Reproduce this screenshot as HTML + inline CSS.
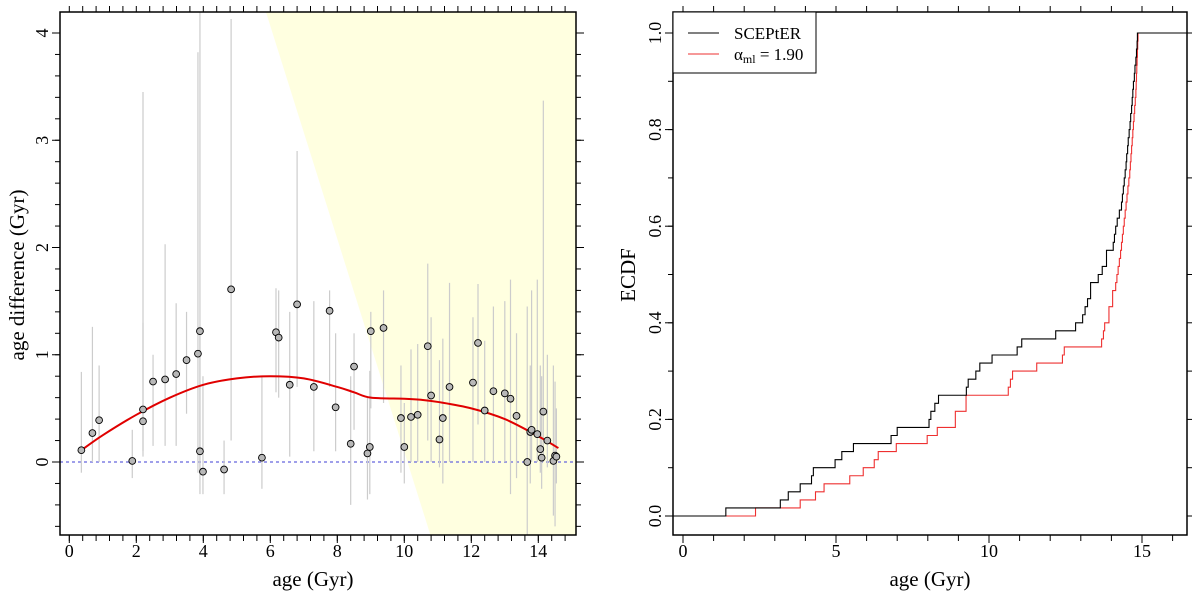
<!DOCTYPE html>
<html><head><meta charset="utf-8"><style>
html,body{margin:0;padding:0;background:#fff;}
svg{display:block;font-family:"Liberation Serif",serif;}
</style></head><body>
<svg id="c" width="1200" height="594" viewBox="0 0 1200 594"></svg>
<script>
// ---- Left panel data ----
const ptAge=[0.36,0.69,0.89,1.88,2.2,2.2,2.5,2.86,3.19,3.5,3.84,3.9,3.9,3.99,4.62,4.83,5.75,6.17,6.25,6.58,6.8,7.3,7.77,7.95,8.4,8.5,8.9,8.97,9.0,9.38,9.9,10.0,10.2,10.4,10.7,10.8,11.05,11.15,11.35,12.05,12.2,12.4,12.66,13.0,13.17,13.35,13.67,13.76,13.8,13.97,14.06,14.15,14.1,14.27,14.5,14.45,14.54];
const ptDiff=[0.11,0.27,0.39,0.01,0.49,0.38,0.75,0.77,0.82,0.95,1.01,1.22,0.1,-0.09,-0.07,1.61,0.04,1.21,1.16,0.72,1.47,0.7,1.41,0.51,0.17,0.89,0.08,0.14,1.22,1.25,0.41,0.14,0.42,0.44,1.08,0.62,0.21,0.41,0.7,0.74,1.11,0.48,0.66,0.64,0.59,0.43,0.0,0.28,0.3,0.26,0.12,0.47,0.04,0.2,0.06,0.01,0.05];
const errLo=[-0.1,0,0,-0.15,0.1,0.05,0.15,0.15,0.15,0.45,-0.1,-0.3,-0.1,-0.3,-0.3,0.2,-0.25,0.65,0.6,0.05,0.7,0.1,0.7,0.1,-0.4,0.3,-0.35,-0.3,0.5,0.55,-0.1,-0.2,0,0,0.2,0,-0.05,-0.2,0,0,0.35,0,0,0,-0.3,-0.15,-0.7,-0.2,0,0,-0.1,0,-0.25,-0.05,-0.6,-0.5,-0.2];
const errHi=[0.84,1.26,0.9,0.3,3.45,1.3,1.0,2.03,1.48,1.4,3.82,4.2,1.2,0.8,0.2,4.13,0.8,1.62,1.6,1.4,2.9,1.5,1.6,1.2,0.8,1.2,0.6,0.85,1.4,1.6,0.9,0.55,1.05,1.1,1.85,1.35,0.95,1.15,1.67,1.35,1.66,1.13,1.45,1.5,1.7,1.2,1.45,0.9,1.6,1.7,0.9,3.37,0.8,1.0,0.75,0.9,0.5];
const fitAge=[0.36,1,2,3,4,5,6,7,8,8.5,9,10,10.5,11,12,13,14,14.6];
const fitDiff=[0.11,0.25,0.44,0.6,0.72,0.78,0.8,0.78,0.7,0.65,0.6,0.59,0.58,0.56,0.5,0.4,0.24,0.13];
const leftXTicks=[0,2,4,6,8,10,12,14];
const leftYTicks=[0,1,2,3,4];
// ---- Right panel data (ECDF samples) ----
const sceptAges=[1.40,3.18,3.44,3.83,4.20,4.26,4.97,5.19,5.57,6.80,7.00,8.04,8.10,8.23,8.35,9.26,9.32,9.57,9.70,10.10,10.92,11.07,12.18,12.83,13.06,13.14,13.22,13.32,13.32,13.57,13.70,13.84,13.84,14.06,14.10,14.14,14.19,14.26,14.33,14.36,14.39,14.42,14.45,14.48,14.5,14.53,14.55,14.58,14.61,14.63,14.66,14.68,14.7,14.72,14.75,14.77,14.8,14.82,14.84,14.85];
const mlAges=[2.37,3.83,4.33,4.61,5.45,5.89,6.25,6.38,6.97,7.98,8.31,8.9,8.9,9.25,9.25,10.63,10.7,10.77,11.56,12.4,12.46,13.68,13.74,13.78,13.92,13.92,14.04,14.04,14.14,14.18,14.22,14.26,14.30,14.33,14.36,14.39,14.42,14.45,14.48,14.51,14.54,14.57,14.6,14.62,14.64,14.66,14.68,14.7,14.72,14.74,14.76,14.78,14.8,14.81,14.82,14.83,14.84,14.85,14.86,14.87];
const rightXTicks=[0,5,10,15];
const rightYTicks=[0,0.2,0.4,0.6,0.8,1.0];

const NS="http://www.w3.org/2000/svg";
const svg=document.getElementById('c');
function mk(tag,attrs,parent){const e=document.createElementNS(NS,tag);for(const k in attrs)e.setAttribute(k,attrs[k]);(parent||svg).appendChild(e);return e;}

const L={l:60,r:576,t:12,b:535};
const lx=v=>69.3+33.5*v;
const ly=v=>462-107.25*v;
const R={l:673,r:1187,t:12,b:535};
const rx=v=>683+30.6*v;
const ry=v=>516-483*v;

// ---- Left panel ----
const gL=mk('g',{});


const clipL=mk('clipPath',{id:'clipL'});mk('rect',{x:L.l,y:L.t,width:L.r-L.l,height:L.b-L.t},clipL);
const reg=mk('polygon',{points:`${lx(5.87)},${L.t} ${L.r},${L.t} ${L.r},${L.b} ${lx(10.78)},${L.b}`,fill:'#ffffe0'},gL);


const zl=mk('line',{x1:L.l,x2:L.r,y1:ly(0),y2:ly(0),stroke:'#6666dd','stroke-width':1.2,'stroke-dasharray':'3,3'},gL);


const eg=mk('g',{'clip-path':'url(#clipL)'},gL);
for(let i=0;i<ptAge.length;i++){
  const e=mk('line',{x1:lx(ptAge[i]),x2:lx(ptAge[i]),y1:ly(errLo[i]),y2:ly(errHi[i]),stroke:'#cccccc','stroke-width':1.2},eg);
  
  
}
// smooth Catmull-Rom path through fit points
const fp=fitAge.map((a,i)=>[lx(a),ly(fitDiff[i])]);
let fd='M'+fp[0][0]+','+fp[0][1];
for(let i=0;i<fp.length-1;i++){
  const p0=fp[Math.max(0,i-1)],p1=fp[i],p2=fp[i+1],p3=fp[Math.min(fp.length-1,i+2)];
  const c1=[p1[0]+(p2[0]-p0[0])/6,p1[1]+(p2[1]-p0[1])/6];
  const c2=[p2[0]-(p3[0]-p1[0])/6,p2[1]-(p3[1]-p1[1])/6];
  fd+='C'+c1[0]+','+c1[1]+' '+c2[0]+','+c2[1]+' '+p2[0]+','+p2[1];
}
const fit=mk('path',{d:fd,fill:'none',stroke:'#e00000','stroke-width':2},gL);


for(let i=0;i<ptAge.length;i++){
  const c=mk('circle',{cx:lx(ptAge[i]),cy:ly(ptDiff[i]),r:3.4,fill:'#b8b8b8',stroke:'#000','stroke-width':0.9},gL);
  
  
}
const fl=mk('rect',{x:L.l,y:L.t,width:L.r-L.l,height:L.b-L.t,fill:'none',stroke:'#000','stroke-width':1.5},gL);


for(let v=0;v<=15.01;v+=0.4){const x=lx(v);if(x<L.l||x>L.r)continue;
  mk('line',{x1:x,x2:x,y1:L.b,y2:L.b+6,stroke:'#000'},gL);mk('line',{x1:x,x2:x,y1:L.t,y2:L.t-6,stroke:'#000'},gL);}
for(let v=-0.6;v<=4.21;v+=0.2){const y=ly(v);if(y<L.t||y>L.b)continue;
  mk('line',{x1:L.l,x2:L.l-5,y1:y,y2:y,stroke:'#000'},gL);mk('line',{x1:L.r,x2:L.r+5,y1:y,y2:y,stroke:'#000'},gL);}
leftXTicks.forEach(v=>{mk('line',{x1:lx(v),x2:lx(v),y1:L.b,y2:L.b+8,stroke:'#000'},gL);
  const t=mk('text',{x:lx(v),y:557,'font-size':18,'text-anchor':'middle'},gL);t.textContent=v;
  
  });
leftYTicks.forEach(v=>{mk('line',{x1:L.l,x2:L.l-8,y1:ly(v),y2:ly(v),stroke:'#000'},gL);mk('line',{x1:L.r,x2:L.r+8,y1:ly(v),y2:ly(v),stroke:'#000'},gL);
  const t=mk('text',{x:0,y:0,'font-size':18,'text-anchor':'middle',transform:`translate(48,${ly(v)}) rotate(-90)`},gL);t.textContent=v;
  
  });
const lxt=mk('text',{x:313,y:586,'font-size':21,'text-anchor':'middle'},gL);lxt.textContent='age (Gyr)';


const lyt=mk('text',{x:0,y:0,'font-size':21,'text-anchor':'middle',transform:'translate(24,275) rotate(-90)'},gL);lyt.textContent='age difference (Gyr)';



// ---- Right panel ----
const gR=mk('g',{});


const clipR=mk('clipPath',{id:'clipR'});mk('rect',{x:R.l,y:R.t,width:R.r-R.l,height:R.b-R.t},clipR);
function ecdfPath(arr,start){const s=arr.slice().sort((a,b)=>a-b);const n=s.length;
  let d='M'+rx(start)+','+ry(0);
  s.forEach((v,i)=>{d+='L'+rx(v)+','+ry(i/n)+'L'+rx(v)+','+ry((i+1)/n);});
  d+='L'+R.r+','+ry(1);return d;}
const red=mk('path',{d:ecdfPath(mlAges,0.36),fill:'none',stroke:'#ee3030','stroke-width':1.1,'clip-path':'url(#clipR)'},gR);


const blk=mk('path',{d:ecdfPath(sceptAges,-0.5),fill:'none',stroke:'#000','stroke-width':1.1,'clip-path':'url(#clipR)'},gR);


const fr=mk('rect',{x:R.l,y:R.t,width:R.r-R.l,height:R.b-R.t,fill:'none',stroke:'#000','stroke-width':1.5},gR);


for(let v=0;v<=16.5;v+=1){const x=rx(v);if(x>R.r)continue;
  mk('line',{x1:x,x2:x,y1:R.b,y2:R.b+6,stroke:'#000'},gR);mk('line',{x1:x,x2:x,y1:R.t,y2:R.t-6,stroke:'#000'},gR);}
for(let k=0;k<=10;k++){const y=ry(k/10);
  mk('line',{x1:R.l,x2:R.l-5,y1:y,y2:y,stroke:'#000'},gR);mk('line',{x1:R.r,x2:R.r+5,y1:y,y2:y,stroke:'#000'},gR);}
rightXTicks.forEach(v=>{mk('line',{x1:rx(v),x2:rx(v),y1:R.b,y2:R.b+8,stroke:'#000'},gR);
  const t=mk('text',{x:rx(v),y:557,'font-size':18,'text-anchor':'middle'},gR);t.textContent=v;
  
  });
rightYTicks.forEach(v=>{mk('line',{x1:R.l,x2:R.l-8,y1:ry(v),y2:ry(v),stroke:'#000'},gR);
  const t=mk('text',{x:0,y:0,'font-size':18,'text-anchor':'middle',transform:`translate(661,${ry(v)}) rotate(-90)`},gR);t.textContent=v.toFixed(1);
  
  });
const rxt=mk('text',{x:930,y:586,'font-size':21,'text-anchor':'middle'},gR);rxt.textContent='age (Gyr)';


const ryt=mk('text',{x:0,y:0,'font-size':21,'text-anchor':'middle',transform:'translate(635,275) rotate(-90)'},gR);ryt.textContent='ECDF';


const lg=mk('g',{},gR);


mk('rect',{x:673,y:12,width:143,height:61,fill:'#fff',stroke:'#000','stroke-width':1},lg);
mk('line',{x1:688,x2:719,y1:33,y2:33,stroke:'#000','stroke-width':1},lg);
mk('line',{x1:688,x2:719,y1:54,y2:54,stroke:'#ee3030','stroke-width':1},lg);
const l1=mk('text',{x:734,y:39,'font-size':17},lg);l1.textContent='SCEPtER';


const l2=mk('text',{x:734,y:60,'font-size':17},lg);
l2.innerHTML='α<tspan font-size="12" dy="3">ml</tspan><tspan dy="-3"> = 1.90</tspan>';


</script>
</body></html>
